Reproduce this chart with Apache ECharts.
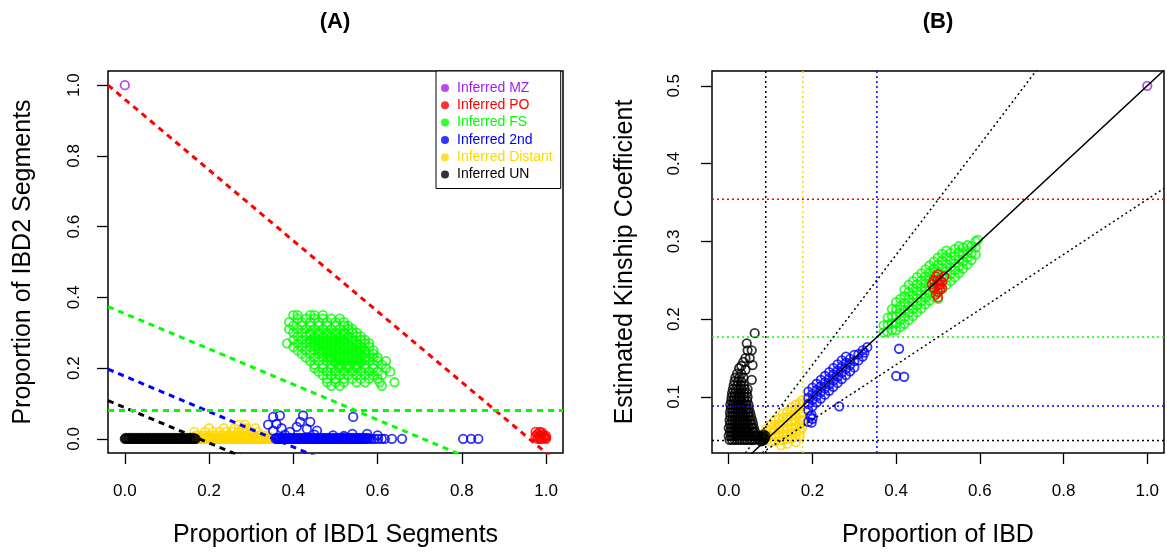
<!DOCTYPE html>
<html><head><meta charset="utf-8">
<script src="https://cdn.jsdelivr.net/npm/echarts@6/dist/echarts.min.js"></script>
<style>html,body{margin:0;padding:0;background:#fff}#c{width:1167px;height:554px}</style>
</head><body><div id="c"></div>
<script>
// ---------------- data ----------------
const xTicks = [0, 0.2, 0.4, 0.6, 0.8, 1.0];
const yTicksA = [0, 0.2, 0.4, 0.6, 0.8, 1.0];
const yTicksB = [0.1, 0.2, 0.3, 0.4, 0.5];
const groups = ['Inferred MZ', 'Inferred PO', 'Inferred FS', 'Inferred 2nd', 'Inferred Distant', 'Inferred UN'];
const groupColors = ['#A020F0', '#FF0000', '#00FF00', '#0000FF', '#FFD700', '#000000'];
const kinCut = [0.0442, 0.0884, 0.177, 0.354];
// Panel A dashed boundaries: [intercept, slope, colour index]
const aLines = [[0.96, -1, 1], [0.354, -0.5, 2], [0.177, -0.5, 3], [0.0884, -0.5, 5], [0.08, 0, 2]];
// Panel B diagonal guides: [slope, dotted?]
const bDiag = [[0.707, true], [0.5, false], [0.354, true]];

// Panel A: IBD1 (x), IBD2 (y)
const aMZ = [[0, 1.0]];
const aPO = [[0.975,0.02],[0.98,0.015],[0.985,0.02],[0.99,0.012],[0.98,0.005],[0.985,0.008],[0.99,0.0],[0.995,0.005],[1.0,0.0],[0.995,0.01],[1.0,0.008],[0.99,0.018],[0.975,0.008],[0.985,0.0],[0.998,0.003],[0.98,0.0]];
const aFS = [
[0.40,0.35],[0.41,0.35],[0.44,0.35],[0.45,0.35],[0.47,0.35],
[0.41,0.34],[0.43,0.34],[0.45,0.34],[0.47,0.34],[0.49,0.34],[0.51,0.34],
[0.39,0.33],[0.42,0.33],[0.44,0.33],[0.46,0.33],[0.48,0.33],[0.50,0.33],[0.52,0.33],
[0.40,0.32],[0.42,0.32],[0.44,0.32],[0.46,0.32],[0.48,0.32],[0.50,0.32],[0.52,0.32],[0.53,0.32],
[0.39,0.31],[0.41,0.31],[0.43,0.31],[0.45,0.31],[0.47,0.31],[0.49,0.31],[0.51,0.31],[0.53,0.31],[0.54,0.31],
[0.40,0.30],[0.42,0.30],[0.44,0.30],[0.46,0.30],[0.48,0.30],[0.50,0.30],[0.52,0.30],[0.54,0.30],[0.55,0.30],
[0.41,0.29],[0.43,0.29],[0.45,0.29],[0.47,0.29],[0.49,0.29],[0.51,0.29],[0.53,0.29],[0.55,0.29],[0.56,0.29],
[0.40,0.28],[0.42,0.28],[0.44,0.28],[0.46,0.28],[0.48,0.28],[0.50,0.28],[0.52,0.28],[0.54,0.28],[0.56,0.28],[0.57,0.28],
[0.385,0.27],[0.41,0.27],[0.43,0.27],[0.45,0.27],[0.47,0.27],[0.49,0.27],[0.51,0.27],[0.53,0.27],[0.55,0.27],[0.57,0.27],[0.58,0.27],
[0.40,0.26],[0.42,0.26],[0.44,0.26],[0.46,0.26],[0.48,0.26],[0.50,0.26],[0.52,0.26],[0.54,0.26],[0.56,0.26],[0.58,0.26],
[0.41,0.25],[0.43,0.25],[0.45,0.25],[0.47,0.25],[0.49,0.25],[0.51,0.25],[0.53,0.25],[0.55,0.25],[0.57,0.25],[0.59,0.25],
[0.42,0.24],[0.44,0.24],[0.46,0.24],[0.48,0.24],[0.50,0.24],[0.52,0.24],[0.54,0.24],[0.56,0.24],[0.58,0.24],[0.59,0.24],
[0.43,0.23],[0.45,0.23],[0.47,0.23],[0.49,0.23],[0.51,0.23],[0.53,0.23],[0.55,0.23],[0.57,0.23],[0.59,0.23],[0.60,0.23],
[0.44,0.22],[0.46,0.22],[0.48,0.22],[0.50,0.22],[0.52,0.22],[0.54,0.22],[0.56,0.22],[0.58,0.22],[0.60,0.22],[0.62,0.22],
[0.45,0.21],[0.47,0.21],[0.49,0.21],[0.51,0.21],[0.53,0.21],[0.55,0.21],[0.57,0.21],[0.59,0.21],[0.61,0.21],
[0.45,0.20],[0.47,0.20],[0.49,0.20],[0.51,0.20],[0.53,0.20],[0.55,0.20],[0.57,0.20],[0.59,0.20],[0.62,0.20],
[0.46,0.19],[0.48,0.19],[0.50,0.19],[0.52,0.19],[0.54,0.19],[0.56,0.19],[0.58,0.19],[0.60,0.19],[0.63,0.19],
[0.47,0.18],[0.49,0.18],[0.51,0.18],[0.53,0.18],[0.55,0.18],[0.57,0.18],[0.59,0.18],[0.61,0.18],
[0.48,0.17],[0.50,0.17],[0.52,0.17],[0.54,0.17],[0.56,0.17],[0.58,0.17],[0.60,0.17],
[0.48,0.16],[0.50,0.16],[0.52,0.16],[0.55,0.16],[0.57,0.16],[0.605,0.16],[0.64,0.16],
[0.49,0.15],[0.51,0.15],[0.61,0.15],
// dense core
[0.44,0.295],[0.46,0.295],[0.48,0.295],[0.50,0.295],[0.52,0.295],
[0.45,0.285],[0.47,0.285],[0.49,0.285],[0.51,0.285],[0.53,0.285],
[0.44,0.275],[0.46,0.275],[0.48,0.275],[0.50,0.275],[0.52,0.275],[0.54,0.275],
[0.45,0.265],[0.47,0.265],[0.49,0.265],[0.51,0.265],[0.53,0.265],[0.55,0.265],
[0.46,0.255],[0.48,0.255],[0.50,0.255],[0.52,0.255],[0.54,0.255],[0.56,0.255],
[0.47,0.245],[0.49,0.245],[0.51,0.245],[0.53,0.245],[0.55,0.245],[0.57,0.245],
[0.48,0.235],[0.50,0.235],[0.52,0.235],[0.54,0.235],[0.56,0.235],
[0.49,0.225],[0.51,0.225],[0.53,0.225],[0.55,0.225],[0.57,0.225],
[0.50,0.215],[0.52,0.215],[0.54,0.215],[0.56,0.215],
[0.51,0.205],[0.53,0.205],[0.55,0.205]];
const a2nd = [
[0.358,0],[0.362,0],[0.366,0],[0.37,0],[0.373,0],[0.377,0],[0.381,0],[0.384,0],[0.388,0],[0.392,0],[0.395,0],[0.399,0],[0.403,0],[0.406,0],[0.41,0],[0.414,0],[0.417,0],[0.421,0],[0.425,0],[0.428,0],[0.432,0],[0.436,0],[0.439,0],[0.443,0],[0.447,0],[0.45,0],[0.454,0],[0.458,0],[0.461,0],[0.465,0],[0.469,0],[0.472,0],[0.476,0],[0.48,0],[0.483,0],[0.487,0],[0.491,0],[0.494,0],[0.498,0],[0.502,0],[0.505,0],[0.509,0],[0.513,0],[0.516,0],[0.52,0],[0.524,0],[0.527,0],[0.531,0],[0.535,0],[0.538,0],[0.542,0],[0.546,0],[0.549,0],[0.553,0],[0.557,0],[0.56,0],[0.564,0],[0.568,0],[0.571,0],[0.575,0],[0.58,0],[0.586,0],[0.593,0],[0.601,0],[0.61,0],[0.617,0],
[0.36,0.003],[0.367,0.003],[0.374,0.003],[0.381,0.003],[0.388,0.003],[0.395,0.003],[0.402,0.003],[0.409,0.003],[0.416,0.003],[0.423,0.003],[0.43,0.003],[0.437,0.003],[0.444,0.003],[0.451,0.003],[0.458,0.003],[0.465,0.003],[0.472,0.003],[0.479,0.003],[0.486,0.003],[0.493,0.003],[0.5,0.003],[0.507,0.003],[0.514,0.003],[0.521,0.003],[0.528,0.003],[0.535,0.003],[0.542,0.003],[0.549,0.003],[0.556,0.003],[0.563,0.003],[0.57,0.003],[0.577,0.003],
[0.634,0],[0.658,0],[0.803,0],[0.822,0],[0.839,0],
[0.34,0.04],[0.352,0.062],[0.368,0.066],[0.36,0.042],[0.352,0.023],[0.372,0.03],[0.392,0.02],[0.408,0.034],[0.416,0.048],[0.423,0.066],[0.44,0.048],[0.432,0.028],[0.456,0.023],[0.494,0.01],[0.54,0.014],[0.575,0.014],[0.542,0.062],[0.45,0.012],[0.38,0.012],[0.6,0.01],[0.52,0.008]];
const aDistant = [
[0.158,0],[0.162,0],[0.166,0],[0.169,0],[0.173,0],[0.177,0],[0.18,0],[0.184,0],[0.188,0],[0.191,0],[0.195,0],[0.199,0],[0.202,0],[0.206,0],[0.21,0],[0.213,0],[0.217,0],[0.221,0],[0.224,0],[0.228,0],[0.232,0],[0.235,0],[0.239,0],[0.243,0],[0.246,0],[0.25,0],[0.254,0],[0.257,0],[0.261,0],[0.265,0],[0.268,0],[0.272,0],[0.276,0],[0.279,0],[0.283,0],[0.287,0],[0.29,0],[0.294,0],[0.298,0],[0.301,0],[0.305,0],[0.309,0],[0.312,0],[0.316,0],[0.32,0],[0.323,0],[0.327,0],[0.331,0],[0.334,0],[0.338,0],[0.342,0],[0.345,0],[0.35,0],[0.354,0],
[0.16,0.004],[0.167,0.004],[0.174,0.004],[0.181,0.004],[0.188,0.004],[0.195,0.004],[0.202,0.004],[0.209,0.004],[0.216,0.004],[0.223,0.004],[0.23,0.004],[0.237,0.004],[0.244,0.004],[0.251,0.004],[0.258,0.004],[0.265,0.004],[0.272,0.004],[0.279,0.004],[0.286,0.004],[0.293,0.004],[0.3,0.004],[0.307,0.004],[0.314,0.004],[0.321,0.004],[0.328,0.004],[0.335,0.004],[0.342,0.004],[0.349,0.004],
[0.17,0.01],[0.185,0.01],[0.2,0.01],[0.215,0.01],[0.23,0.01],[0.245,0.01],[0.26,0.01],[0.275,0.01],[0.29,0.01],[0.305,0.01],[0.32,0.01],[0.335,0.01],
[0.165,0.02],[0.19,0.02],[0.21,0.02],[0.225,0.02],[0.24,0.02],[0.255,0.02],[0.27,0.02],[0.285,0.02],[0.3,0.02],[0.315,0.02],
[0.2,0.03],[0.235,0.03],[0.26,0.03],[0.28,0.03],[0.29,0.03],[0.31,0.03],[0.27,0.04],[0.285,0.04]];
const aUN = [[0,0],[0.004,0],[0.007,0],[0.011,0],[0.014,0],[0.018,0],[0.022,0],[0.025,0],[0.029,0],[0.033,0],[0.036,0],[0.04,0],[0.044,0],[0.047,0],[0.051,0],[0.055,0],[0.058,0],[0.062,0],[0.066,0],[0.069,0],[0.073,0],[0.077,0],[0.08,0],[0.084,0],[0.088,0],[0.091,0],[0.095,0],[0.099,0],[0.102,0],[0.106,0],[0.11,0],[0.113,0],[0.117,0],[0.121,0],[0.124,0],[0.128,0],[0.132,0],[0.135,0],[0.139,0],[0.143,0],[0.146,0],[0.15,0],[0.154,0],[0.157,0],[0.161,0],[0.165,0],[0.168,0],
[0.002,0.003],[0.009,0.003],[0.016,0.003],[0.023,0.003],[0.03,0.003],[0.037,0.003],[0.044,0.003],[0.051,0.003],[0.058,0.003],[0.065,0.003],[0.072,0.003],[0.079,0.003],[0.086,0.003],[0.093,0.003],[0.1,0.003],[0.107,0.003],[0.114,0.003],[0.121,0.003],[0.128,0.003],[0.135,0.003],[0.142,0.003],[0.149,0.003],[0.156,0.003],[0.163,0.003]];

// Panel B: proportion IBD (x), kinship coefficient (y)
const bMZ = [[1.0, 0.5]];
const bPO = [[0.49,0.24],[0.5,0.245],[0.505,0.25],[0.495,0.255],[0.51,0.248],[0.5,0.235],[0.49,0.25],[0.5,0.258],[0.51,0.24],[0.485,0.245],[0.505,0.238],[0.515,0.255],[0.495,0.232],[0.5,0.228],[0.498,0.25],[0.505,0.244]];
const bFS = [
[0.37,0.183],[0.37,0.192],[0.379,0.184],
[0.38,0.193],[0.38,0.202],
[0.39,0.186],[0.39,0.195],[0.39,0.204],[0.39,0.213],
[0.40,0.186],[0.40,0.195],[0.40,0.204],[0.40,0.213],[0.40,0.222],
[0.41,0.19],[0.41,0.199],[0.41,0.208],[0.41,0.217],[0.41,0.226],
[0.42,0.194],[0.42,0.203],[0.42,0.212],[0.42,0.221],[0.42,0.23],[0.42,0.238],
[0.43,0.199],[0.43,0.208],[0.43,0.217],[0.43,0.226],[0.43,0.235],[0.43,0.244],
[0.44,0.204],[0.44,0.213],[0.44,0.222],[0.44,0.231],[0.44,0.24],[0.44,0.249],
[0.45,0.209],[0.45,0.218],[0.45,0.227],[0.45,0.236],[0.45,0.245],[0.45,0.254],
[0.46,0.214],[0.46,0.223],[0.46,0.232],[0.46,0.241],[0.46,0.25],[0.46,0.259],
[0.47,0.219],[0.47,0.228],[0.47,0.237],[0.47,0.246],[0.47,0.255],[0.47,0.264],
[0.48,0.224],[0.48,0.233],[0.48,0.242],[0.48,0.251],[0.48,0.26],[0.48,0.269],
[0.49,0.229],[0.49,0.238],[0.49,0.247],[0.49,0.256],[0.49,0.265],[0.49,0.274],
[0.50,0.226],[0.50,0.234],[0.50,0.243],[0.50,0.252],[0.50,0.261],[0.50,0.27],[0.50,0.279],
[0.51,0.239],[0.51,0.248],[0.51,0.257],[0.51,0.266],[0.51,0.275],[0.51,0.284],
[0.52,0.244],[0.52,0.253],[0.52,0.262],[0.52,0.271],[0.52,0.28],[0.52,0.288],
[0.53,0.249],[0.53,0.258],[0.53,0.267],[0.53,0.276],[0.53,0.285],
[0.54,0.254],[0.54,0.263],[0.54,0.272],[0.54,0.281],[0.54,0.29],
[0.55,0.259],[0.55,0.268],[0.55,0.277],[0.55,0.286],[0.55,0.294],
[0.56,0.265],[0.56,0.274],[0.56,0.283],[0.56,0.292],
[0.57,0.27],[0.57,0.279],[0.57,0.288],[0.57,0.295],
[0.58,0.276],[0.58,0.285],[0.58,0.294],
[0.59,0.283],[0.59,0.292],[0.59,0.3],[0.595,0.302]];
const b2nd = [
[0.19,0.083],[0.19,0.091],[0.19,0.099],[0.19,0.107],[0.195,0.075],[0.19,0.068],[0.2,0.072],
[0.20,0.088],[0.20,0.096],[0.20,0.104],[0.20,0.112],
[0.21,0.093],[0.21,0.101],[0.21,0.109],[0.21,0.117],
[0.22,0.098],[0.22,0.106],[0.22,0.114],[0.22,0.122],
[0.23,0.103],[0.23,0.111],[0.23,0.119],[0.23,0.127],
[0.24,0.108],[0.24,0.116],[0.24,0.124],[0.24,0.132],
[0.25,0.113],[0.25,0.121],[0.25,0.129],[0.25,0.137],
[0.26,0.118],[0.26,0.126],[0.26,0.134],[0.26,0.142],
[0.27,0.123],[0.27,0.131],[0.27,0.139],[0.27,0.147],
[0.28,0.128],[0.28,0.136],[0.28,0.144],[0.28,0.152],
[0.29,0.133],[0.29,0.141],[0.29,0.149],
[0.30,0.138],[0.30,0.146],[0.30,0.154],
[0.31,0.147],[0.31,0.155],[0.32,0.152],[0.32,0.16],
[0.331,0.164],[0.324,0.157],[0.264,0.088],[0.198,0.067],[0.198,0.077],[0.407,0.162],[0.4,0.127],[0.419,0.126]];
const bDistant = [
[0.085,0.05],[0.09,0.045],[0.09,0.052],[0.09,0.059],
[0.10,0.043],[0.10,0.05],[0.10,0.057],[0.10,0.064],
[0.11,0.043],[0.11,0.05],[0.11,0.057],[0.11,0.064],[0.11,0.07],
[0.12,0.044],[0.12,0.051],[0.12,0.058],[0.12,0.065],[0.12,0.072],
[0.13,0.045],[0.13,0.052],[0.13,0.059],[0.13,0.066],[0.13,0.073],[0.13,0.079],
[0.14,0.046],[0.14,0.053],[0.14,0.06],[0.14,0.067],[0.14,0.074],[0.14,0.081],
[0.15,0.047],[0.15,0.054],[0.15,0.061],[0.15,0.068],[0.15,0.075],[0.15,0.082],[0.15,0.087],
[0.16,0.048],[0.16,0.055],[0.16,0.062],[0.16,0.069],[0.16,0.076],[0.16,0.083],[0.16,0.09],
[0.17,0.05],[0.17,0.057],[0.17,0.064],[0.17,0.071],[0.17,0.078],[0.17,0.085],[0.17,0.092],
[0.175,0.06],[0.175,0.07],[0.175,0.08],[0.175,0.09],[0.175,0.096],
[0.125,0.038],[0.14,0.04],[0.16,0.042]];
const bUN = [
[0.002,0.045],[0.008,0.045],[0.014,0.045],[0.02,0.045],[0.026,0.045],[0.032,0.045],[0.038,0.045],[0.044,0.045],[0.05,0.045],[0.056,0.045],[0.062,0.045],[0.068,0.046],
[0.0,0.05],[0.006,0.05],[0.012,0.05],[0.018,0.05],[0.024,0.05],[0.03,0.05],[0.036,0.05],[0.042,0.05],[0.048,0.05],[0.054,0.05],[0.06,0.05],[0.066,0.05],
[0.003,0.055],[0.009,0.055],[0.015,0.055],[0.021,0.055],[0.027,0.055],[0.033,0.055],[0.039,0.055],[0.045,0.055],[0.051,0.055],[0.058,0.055],[0.063,0.055],
[0.0,0.06],[0.006,0.06],[0.012,0.06],[0.018,0.06],[0.024,0.06],[0.03,0.06],[0.036,0.06],[0.042,0.06],[0.048,0.06],[0.055,0.06],[0.06,0.06],
[0.003,0.065],[0.009,0.065],[0.015,0.065],[0.021,0.065],[0.027,0.065],[0.033,0.065],[0.039,0.065],[0.045,0.065],[0.052,0.065],[0.058,0.065],
[0.002,0.07],[0.008,0.07],[0.014,0.07],[0.02,0.07],[0.026,0.07],[0.032,0.07],[0.038,0.07],[0.044,0.07],[0.05,0.07],[0.056,0.07],
[0.004,0.075],[0.01,0.075],[0.016,0.075],[0.022,0.075],[0.028,0.075],[0.034,0.075],[0.04,0.075],[0.047,0.075],[0.053,0.075],
[0.003,0.08],[0.009,0.08],[0.015,0.08],[0.021,0.08],[0.027,0.08],[0.033,0.08],[0.04,0.08],[0.046,0.08],[0.051,0.08],
[0.005,0.085],[0.011,0.085],[0.017,0.085],[0.023,0.085],[0.029,0.085],[0.035,0.085],[0.042,0.085],[0.048,0.085],
[0.004,0.09],[0.01,0.09],[0.016,0.09],[0.022,0.09],[0.028,0.09],[0.034,0.09],[0.041,0.09],[0.047,0.09],
[0.006,0.095],[0.012,0.095],[0.018,0.095],[0.024,0.095],[0.03,0.095],[0.037,0.095],[0.044,0.095],
[0.007,0.1],[0.013,0.1],[0.019,0.1],[0.025,0.1],[0.031,0.1],[0.038,0.1],[0.045,0.1],
[0.008,0.105],[0.015,0.105],[0.022,0.105],[0.029,0.105],[0.036,0.105],[0.043,0.105],
[0.01,0.11],[0.017,0.11],[0.024,0.11],[0.031,0.11],[0.038,0.11],[0.045,0.11],
[0.012,0.115],[0.02,0.115],[0.028,0.115],[0.036,0.115],
[0.014,0.12],[0.022,0.12],[0.03,0.12],[0.055,0.122],
[0.016,0.125],[0.025,0.125],[0.035,0.125],
[0.02,0.13],[0.03,0.13],[0.025,0.137],[0.04,0.135],
[0.03,0.14],[0.057,0.141],[0.035,0.145],[0.04,0.15],[0.05,0.15],
[0.045,0.16],[0.055,0.16],[0.043,0.169],[0.062,0.182],
[0.075,0.045],[0.08,0.05],[0.085,0.046],[0.078,0.048],[0.082,0.044],[0.088,0.05],[0.072,0.05],[0.083,0.052],[0.077,0.043],[0.086,0.047]];

// ---------------- chart ----------------
const FONT = 'Liberation Sans, Arial, sans-serif';
const col = g => groupColors[groups.indexOf(g)];

function scatter(name, data, ai) {
  return {type: 'scatter', name, data, xAxisIndex: ai, yAxisIndex: ai, symbol: 'circle', symbolSize: 8.5,
    itemStyle: {color: 'rgba(0,0,0,0)', borderColor: col(name), borderWidth: 1.8}, silent: true, z: 2};
}
function seg(data, color, type, width, ai) {
  return {type: 'line', data, xAxisIndex: ai, yAxisIndex: ai, symbol: 'none', showSymbol: false, clip: true,
    lineStyle: {color, type, width}, silent: true, z: 3};
}
function xAx(gi, name, min, max, ticks) {
  return {type: 'value', gridIndex: gi, min, max, name, nameLocation: 'middle', nameGap: 82,
    nameTextStyle: {fontSize: 25, color: '#000', fontFamily: FONT, verticalAlign: 'middle'},
    axisLine: {show: false, onZero: false}, splitLine: {show: false},
    axisTick: {show: true, length: 11, lineStyle: {color: '#000', width: 1.3}, customValues: ticks},
    axisLabel: {customValues: ticks, formatter: v => v.toFixed(1), fontSize: 17, color: '#000', fontFamily: FONT, margin: 30}};
}
function yAx(gi, name, min, max, ticks, gap, lm) {
  return {type: 'value', gridIndex: gi, min, max, name, nameLocation: 'middle', nameGap: gap,
    nameTextStyle: {fontSize: 25, color: '#000', fontFamily: FONT, verticalAlign: 'middle'},
    axisLine: {show: false, onZero: false}, splitLine: {show: false},
    axisTick: {show: true, length: 11, lineStyle: {color: '#000', width: 1.3}, customValues: ticks},
    axisLabel: {customValues: ticks, formatter: v => v.toFixed(1), fontSize: 17, color: '#000', fontFamily: FONT, margin: lm, rotate: 90}};
}

const AX = [-0.04, 1.04], AY = [-0.04, 1.04], BX = [-0.04, 1.04], BY = [0.028, 0.519];
const series = [];
series.push(scatter('Inferred Distant', aDistant, 0));
series.push(scatter('Inferred UN', aUN, 0));
series.push(scatter('Inferred 2nd', a2nd, 0));
series.push(scatter('Inferred FS', aFS, 0));
series.push(scatter('Inferred PO', aPO, 0));
series.push(scatter('Inferred MZ', aMZ, 0));
aLines.forEach(([b0, b1, ci]) => {
  series.push(seg([[AX[0], b0 + b1 * AX[0]], [AX[1], b0 + b1 * AX[1]]], groupColors[ci], [6, 5], 3, 0));
});
series.push(scatter('Inferred Distant', bDistant, 1));
series.push(scatter('Inferred UN', bUN, 1));
series.push(scatter('Inferred 2nd', b2nd, 1));
series.push(scatter('Inferred FS', bFS, 1));
series.push(scatter('Inferred PO', bPO, 1));
series.push(scatter('Inferred MZ', bMZ, 1));
const hCol = ['#000000', '#0000FF', '#00FF00', '#FF0000'];
kinCut.forEach((k, i) => series.push(seg([[BX[0], k], [BX[1], k]], hCol[i], [2, 3], 1.5, 1)));
const vCol = ['#000000', '#FFD700', '#0000FF'];
kinCut.slice(1).forEach((k, i) => series.push(seg([[k, BY[0]], [k, BY[1]]], vCol[i], [2, 3], 1.5, 1)));
bDiag.forEach(([s, dotted]) => series.push(seg([[BX[0], s * BX[0]], [BX[1], s * BX[1]]], '#000', dotted ? [2, 3] : 'solid', 1.5, 1)));

const chart = echarts.init(document.getElementById('c'), null, {renderer: 'canvas'});
chart.setOption({
  animation: false,
  backgroundColor: '#fff',
  grid: [
    {left: 108, top: 71, width: 455, height: 382, show: true, borderColor: '#000', borderWidth: 1.5, backgroundColor: 'transparent'},
    {left: 712, top: 71, width: 452, height: 382, show: true, borderColor: '#000', borderWidth: 1.5, backgroundColor: 'transparent'}
  ],
  xAxis: [xAx(0, 'Proportion of IBD1 Segments', AX[0], AX[1], xTicks), xAx(1, 'Proportion of IBD', BX[0], BX[1], xTicks)],
  yAxis: [yAx(0, 'Proportion of IBD2 Segments', AY[0], AY[1], yTicksA, 85, 25), yAx(1, 'Estimated Kinship Coefficient', BY[0], BY[1], yTicksB, 87, 29)],
  legend: {
    data: groups.map((g, i) => ({name: g, icon: 'circle', itemStyle: {color: groupColors[i], borderWidth: 0}, textStyle: {color: groupColors[i]}})),
    orient: 'vertical', left: 436, top: 71, itemWidth: 14, itemHeight: 8, itemGap: 3.3,
    padding: [10, 8, 7, 5], backgroundColor: '#fff', borderColor: '#000', borderWidth: 1,
    textStyle: {fontSize: 14, lineHeight: 14, fontFamily: FONT}, selectedMode: false, z: 10
  },
  graphic: [
    {type: 'text', x: 335, y: 22, style: {text: '(A)', fontSize: 22, fontWeight: 'bold', fontFamily: FONT, fill: '#000', align: 'center', verticalAlign: 'middle'}},
    {type: 'text', x: 938, y: 22, style: {text: '(B)', fontSize: 22, fontWeight: 'bold', fontFamily: FONT, fill: '#000', align: 'center', verticalAlign: 'middle'}}
  ],
  series
});
</script></body></html>
